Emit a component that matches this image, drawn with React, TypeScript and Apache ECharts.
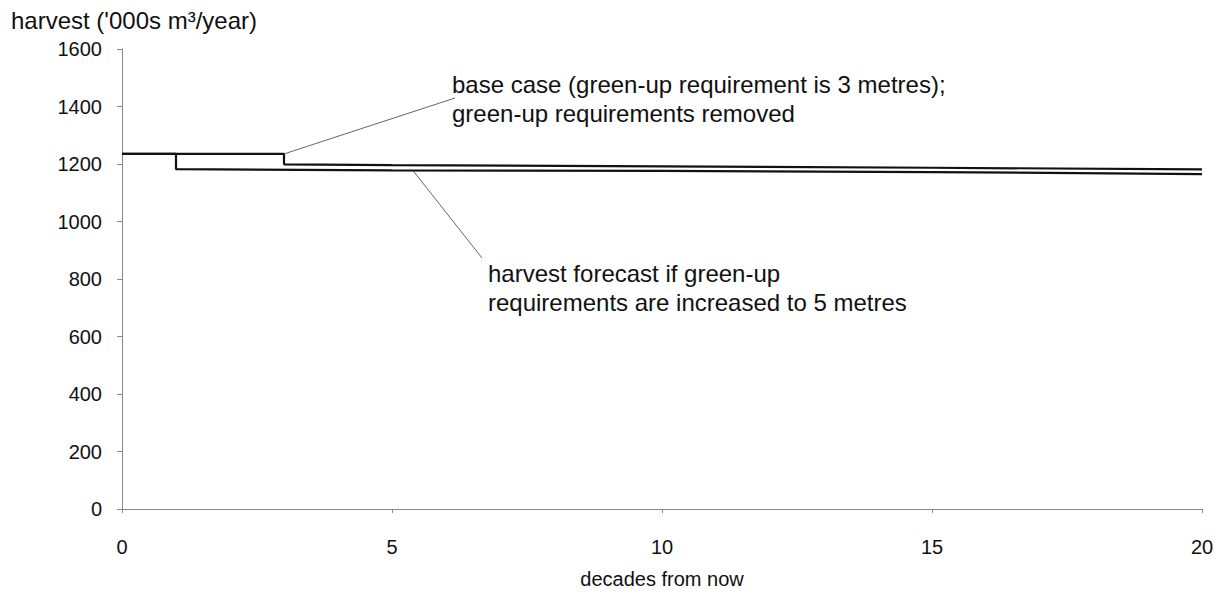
import React, { useEffect, useRef } from "react";
import * as echarts from "echarts";

const xTicks = [0, 5, 10, 15, 20];
const yTicks = [0, 200, 400, 600, 800, 1000, 1200, 1400, 1600];

// base case (green-up 3 m) / green-up removed
const baseX = [0, 3, 3, 5, 10, 15, 20];
const baseY = [1235, 1235, 1199, 1196, 1192, 1187, 1181];

// green-up increased to 5 m
const upX = [0, 1, 1, 5, 10, 15, 20];
const upY = [1235, 1235, 1182, 1178, 1176, 1172, 1165];

const yTitle = "harvest ('000s m³/year)";
const xTitle = "decades from now";
const note1 = ["base case (green-up requirement is 3 metres);", "green-up requirements removed"];
const note2 = ["harvest forecast if green-up", "requirements are increased to 5 metres"];

const FONT = "'Liberation Sans', Arial, sans-serif";
const FS = 20;
const FS_NOTE = 24;

export default function App() {
  const ref = useRef<HTMLDivElement>(null);
  useEffect(() => {
    if (!ref.current) return;
    const chart = echarts.init(ref.current, undefined, { renderer: "svg" });
    const axisCol = "#888";
    chart.setOption({
      animation: false,
      backgroundColor: "#fff",
      textStyle: { fontFamily: FONT },
      grid: { left: 122, right: 15, top: 49, bottom: 93 },
      xAxis: {
        type: "value",
        min: xTicks[0],
        max: xTicks[xTicks.length - 1],
        interval: 5,
        name: xTitle,
        nameLocation: "middle",
        nameGap: 60,
        nameTextStyle: { fontSize: FS, color: "#111", fontFamily: FONT },
        axisLine: { lineStyle: { color: axisCol, width: 1 } },
        axisTick: { show: true, length: 4, lineStyle: { color: axisCol } },
        axisLabel: { fontSize: FS, color: "#111", margin: 28, fontFamily: FONT },
        splitLine: { show: false },
      },
      yAxis: {
        type: "value",
        min: yTicks[0],
        max: yTicks[yTicks.length - 1],
        interval: 200,
        axisLine: { show: true, lineStyle: { color: axisCol, width: 1 } },
        axisTick: { show: true, length: 5, lineStyle: { color: axisCol } },
        axisLabel: {
          fontSize: FS,
          color: "#111",
          margin: 20,
          fontFamily: FONT,
          formatter: (v: number) => String(v),
        },
        splitLine: { show: false },
      },
      series: [
        {
          type: "line",
          data: baseX.map((x, i) => [x, baseY[i]]),
          symbol: "none",
          lineStyle: { color: "#111", width: 2.2 },
          z: 3,
        },
        {
          type: "line",
          data: upX.map((x, i) => [x, upY[i]]),
          symbol: "none",
          lineStyle: { color: "#111", width: 2.2 },
          z: 3,
        },
      ],
    });

    const p1 = chart.convertToPixel({ gridIndex: 0 }, [baseX[1], baseY[1]]) as number[];
    const p2 = chart.convertToPixel({ gridIndex: 0 }, [5.4, 1178]) as number[];

    chart.setOption({
      graphic: [
        {
          type: "text",
          x: 11,
          y: 8,
          style: { text: yTitle, fontSize: FS_NOTE, fill: "#111", fontFamily: FONT },
        },
        {
          type: "text",
          x: 452,
          y: 70,
          style: { text: note1.join("\n"), fontSize: FS_NOTE, lineHeight: 29, fill: "#111", fontFamily: FONT },
        },
        {
          type: "line",
          shape: { x1: p1[0], y1: p1[1], x2: 455, y2: 98 },
          style: { stroke: "#666", lineWidth: 1 },
        },
        {
          type: "text",
          x: 488,
          y: 259,
          style: { text: note2.join("\n"), fontSize: FS_NOTE, lineHeight: 29, fill: "#111", fontFamily: FONT },
        },
        {
          type: "line",
          shape: { x1: p2[0], y1: p2[1] + 1, x2: 482, y2: 258 },
          style: { stroke: "#666", lineWidth: 1 },
        },
      ],
    });
    return () => chart.dispose();
  }, []);
  return (
    <div
      ref={ref}
      style={{ position: "absolute", left: 0, top: 0, width: 1217, height: 602 }}
    />
  );
}
